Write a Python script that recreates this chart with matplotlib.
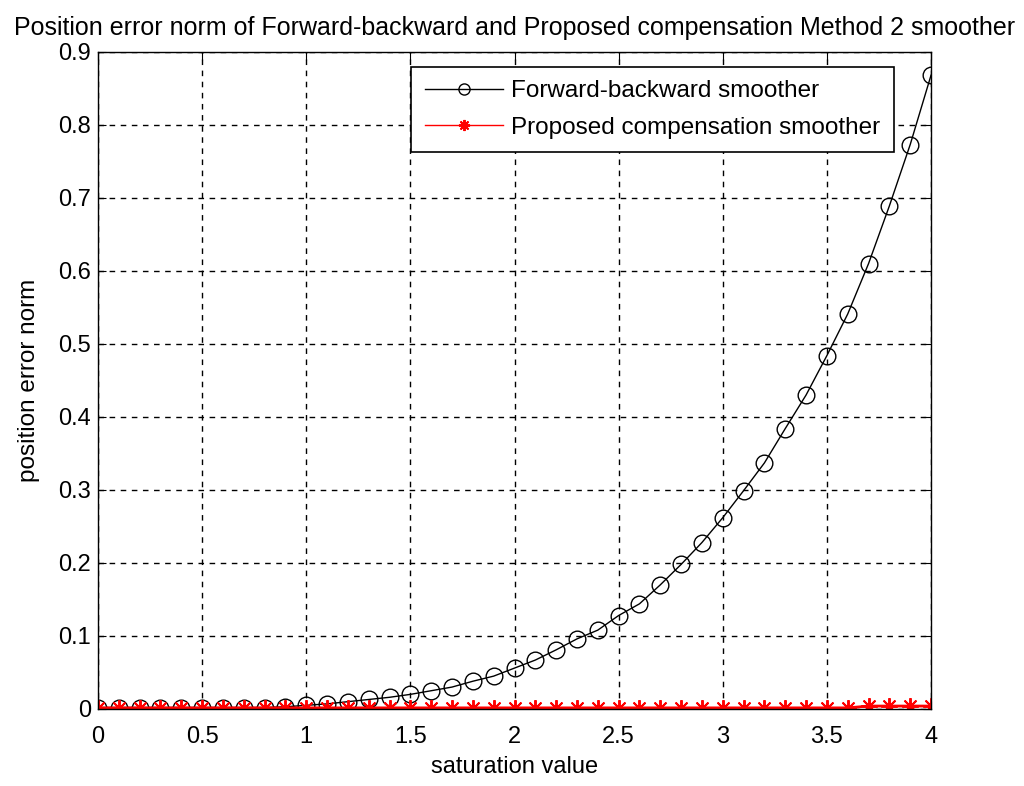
import numpy as np
import matplotlib.pyplot as plt

plt.rcParams['font.family'] = ['Liberation Sans', 'DejaVu Sans']

# saturation values 0:0.1:4
sat = [round(0.1 * i, 1) for i in range(41)]

fb_err = [0.002, 0.002, 0.002, 0.002, 0.002, 0.002, 0.002, 0.002, 0.002, 0.003,
          0.005, 0.007, 0.010, 0.013, 0.016, 0.020, 0.025, 0.030, 0.038, 0.045,
          0.056, 0.067, 0.081, 0.096, 0.108, 0.128, 0.144, 0.170, 0.198, 0.228,
          0.262, 0.299, 0.337, 0.384, 0.430, 0.484, 0.541, 0.610, 0.689, 0.773,
          0.868]

prop_err = [0.0015] * 37 + [0.004, 0.004, 0.004, 0.004]

fig = plt.figure(figsize=(10.24, 7.86), dpi=100)
ax = fig.add_axes([0.0957, 0.098, 0.8135, 0.836])

ax.plot(sat, fb_err, color='black', lw=1, marker='o', ms=12, mfc='none',
        mec='black', mew=1, label='Forward-backward smoother')
ax.plot(sat, prop_err, color='red', lw=2, marker=(8, 2, 0), ms=12, mew=1.4,
        label='Proposed compensation smoother')

ax.set_xlim(0, 4)
ax.set_ylim(0, 0.9)
ax.set_xticks(np.arange(0, 4.01, 0.5))
ax.set_xticklabels(['0', '0.5', '1', '1.5', '2', '2.5', '3', '3.5', '4'])
ax.set_yticks(np.arange(0, 0.91, 0.1))
ax.set_yticklabels(['0', '0.1', '0.2', '0.3', '0.4', '0.5', '0.6', '0.7', '0.8', '0.9'])
ax.tick_params(direction='in', top=True, right=True, labelsize=17, length=6, pad=5)
ax.tick_params(axis='x', pad=12)
ax.grid(True, color='black', linestyle=(0, (4, 4)), linewidth=1)
for s in ax.spines.values():
    s.set_linewidth(1)

ax.set_xlabel('saturation value', fontsize=17, labelpad=6)
ax.set_ylabel('position error norm', fontsize=17.5, labelpad=13)
ax.set_title('Position error norm of Forward-backward and Proposed compensation Method 2 smoother',
             fontsize=18, pad=12)

leg = ax.legend(loc='upper right', bbox_to_anchor=(0.955, 0.977), fontsize=17.5,
                fancybox=False, framealpha=1, edgecolor='black', handlelength=3.2,
                handletextpad=0.35, borderpad=0.55, labelspacing=0.6, borderaxespad=0)
leg.get_frame().set_linewidth(1.2)
for h in leg.legend_handles:
    h.set_markersize(8)
    h.set_linewidth(1)

fig.savefig('out.png', dpi=100)
